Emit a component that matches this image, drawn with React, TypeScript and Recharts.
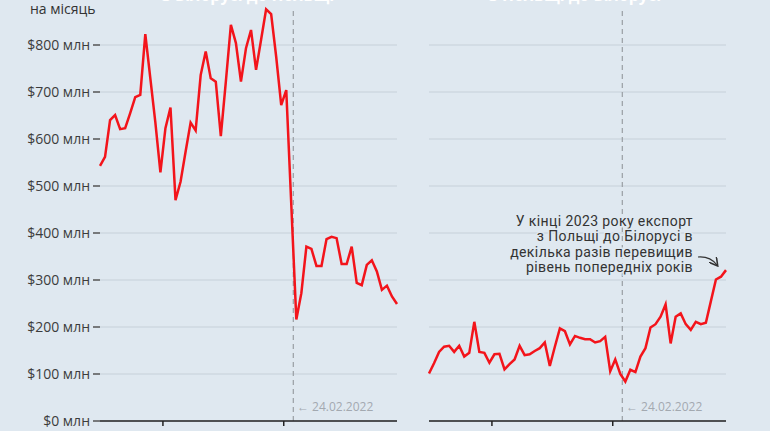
import { LineChart, Line, XAxis, YAxis, CartesianGrid, ReferenceLine } from "recharts";

const BG = "#dfe8f0";
const RED = "#f3141b";

// monthly values, Jan 2019 – Dec 2023, $ млн
const belToPol = [
  543, 562, 640, 651, 621, 623, 655, 689, 694, 823, 729, 635,
  529, 623, 667, 470, 509, 573, 635, 618, 736, 786, 729, 722,
  606, 722, 843, 804, 722, 793, 832, 747, 811, 876, 866, 775,
  672, 704, 460, 216, 272, 371, 366, 330, 330, 387, 392, 389,
  334, 334, 371, 294, 289, 332, 342, 318, 279, 288, 265, 249,
];

const polToBel = [
  101, 123, 147, 158, 160, 147, 160, 137, 145, 211, 147, 145,
  124, 142, 143, 110, 121, 131, 160, 140, 142, 149, 155, 167,
  117, 158, 197, 191, 163, 181, 177, 174, 174, 167, 170, 179,
  106, 131, 100, 84, 109, 104, 137, 155, 199, 206, 222, 248,
  165, 222, 229, 206, 194, 211, 206, 209, 255, 301, 307, 321,
];

const yTicks = [0, 100, 200, 300, 400, 500, 600, 700, 800];
const yearTicks = [12.5, 36.5];
const invasion = 38.4;
const invasionLabel = "← 24.02.2022";
const note = [
  "У кінці 2023 року експорт",
  "з Польщі до Білорусі в",
  "декілька разів перевищив",
  "рівень попередніх років",
];

const leftData = belToPol.map((v, i) => ({ i, v }));
const rightData = polToBel.map((v, i) => ({ i, v }));

function Panel({ data, showY, width, left }: { data: { i: number; v: number }[]; showY: boolean; width: number; left: number }) {
  return (
    <div style={{ position: "absolute", left, top: -30 }}>
      <LineChart
        width={width}
        height={500}
        data={data}
        margin={{ top: 28, right: showY ? 3 : 4, bottom: 19, left: showY ? 0 : 29 }}
      >
        <CartesianGrid vertical={false} stroke="#c6d0d9" strokeWidth={1} horizontalValues={yTicks} />
        <XAxis
          dataKey="i"
          type="number"
          domain={[0, 59]}
          ticks={yearTicks}
          tickFormatter={() => ""}
          tickSize={5}
          height={30}
          axisLine={{ stroke: "#222", strokeWidth: 1.5 }}
          tickLine={{ stroke: "#222", strokeWidth: 1.5 }}
        />
        <YAxis
          hide={!showY}
          domain={[0, 900]}
          ticks={yTicks}
          width={100}
          tickSize={7}
          tickMargin={3}
          axisLine={false}
          tickLine={{ stroke: "#555", strokeWidth: 1.5 }}
          tick={{ fill: "#3c3c3c", fontSize: 14 }}
          tickFormatter={(v: number) => `$${v} млн`}
        />
        <ReferenceLine
          segment={[{ x: invasion, y: 0 }, { x: invasion, y: 880 }]}
          stroke="#9a9ea3"
          strokeWidth={1.2}
          strokeDasharray="5 4"
        />
        <Line
          dataKey="v"
          stroke={RED}
          strokeWidth={2.5}
          dot={false}
          isAnimationActive={false}
        />
      </LineChart>
    </div>
  );
}

export default function App() {
  return (
    <div
      style={{
        position: "absolute",
        left: 0,
        top: 0,
        width: 770,
        height: 431,
        overflow: "hidden",
        background: BG,
        fontFamily: "'Open Sans', sans-serif",
      }}
    >
      <Panel data={leftData} showY width={400} left={0} />
      <Panel data={rightData} showY={false} width={330} left={400} />
      <svg width={770} height={431} style={{ position: "absolute", left: 0, top: 0, pointerEvents: "none" }}>
        <defs>
          <marker id="ah" markerWidth="8" markerHeight="8" refX="6" refY="4" orient="auto">
            <path d="M0,0 L7,4 L0,8" fill="none" stroke="#333" strokeWidth="1.3" />
          </marker>
        </defs>
        <text x={248} y={1} textAnchor="middle" fill="#fff" fontWeight="bold" fontSize={16}>з Білорусі до Польщі</text>
        <text x={575} y={1} textAnchor="middle" fill="#fff" fontWeight="bold" fontSize={16}>з Польщі до Білорусі</text>
        <text x={30} y={14} fill="#333" fontSize={14}>на місяць</text>
        <text x={297} y={411} fill="#a3a9b0" fontSize={12}>{invasionLabel}</text>
        <text x={626} y={411} fill="#a3a9b0" fontSize={12}>{invasionLabel}</text>
        {note.map((t, k) => (
          <text
            key={k}
            x={693}
            y={226 + k * 15.4}
            textAnchor="end"
            fill="#333"
            fontSize={14}
            letterSpacing={0.4}
            fontFamily="Roboto, sans-serif"
            stroke={BG}
            strokeWidth={3}
            paintOrder="stroke"
          >
            {t}
          </text>
        ))}
        <path d="M 698 257 Q 710 256 717 265" fill="none" stroke="#333" strokeWidth={1.2} markerEnd="url(#ah)" />
      </svg>
    </div>
  );
}
